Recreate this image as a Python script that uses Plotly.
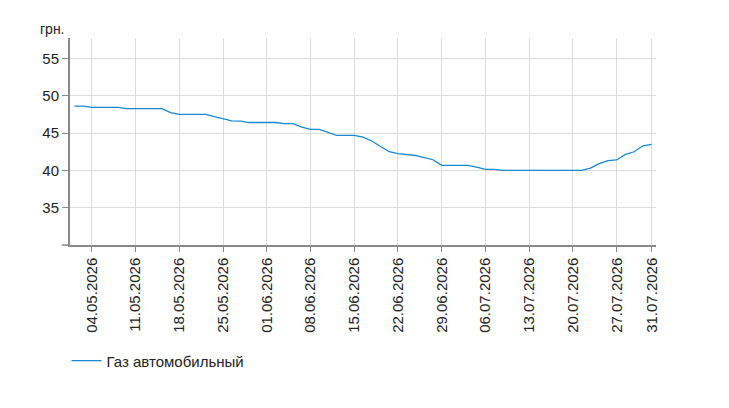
import pandas as pd
import plotly.graph_objects as go

# Business-day categories shown on the x axis
dates = pd.bdate_range("2026-04-30", "2026-07-31")
categories = [d.strftime("%d.%m.%Y") for d in dates]

series_name = "Газ автомобильный"
values = [
    48.63, 48.63, 48.45, 48.45, 48.45, 48.45, 48.27, 48.27, 48.27, 48.27,
    48.27, 47.75, 47.52, 47.52, 47.52, 47.52, 47.20, 46.90, 46.64, 46.60,
    46.42, 46.42, 46.42, 46.42, 46.28, 46.28, 45.80, 45.49, 45.49, 45.10,
    44.70, 44.69, 44.69, 44.47, 43.94, 43.20, 42.50, 42.26, 42.15, 42.00,
    41.70, 41.43, 40.67, 40.67, 40.67, 40.67, 40.45, 40.13, 40.13, 40.00,
    40.00, 40.00, 40.00, 40.00, 40.00, 40.00, 40.00, 40.00, 40.00, 40.30,
    40.90, 41.30, 41.40, 42.15, 42.50, 43.30, 43.50,
]

x_tick_labels = [
    "04.05.2026", "11.05.2026", "18.05.2026", "25.05.2026", "01.06.2026",
    "08.06.2026", "15.06.2026", "22.06.2026", "29.06.2026", "06.07.2026",
    "13.07.2026", "20.07.2026", "27.07.2026", "31.07.2026",
]
y_tick_vals = [35, 40, 45, 50, 55]
y_unit = "грн."

FONT = "Liberation Sans, Arial, sans-serif"

fig = go.Figure()
fig.add_trace(go.Scatter(
    x=categories, y=values, mode="lines", name=series_name,
    line=dict(color="#1789d0", width=1.3),
))

fig.update_layout(
    width=729, height=408,
    margin=dict(l=70, r=73, t=38, b=163),
    paper_bgcolor="white", plot_bgcolor="white",
    font=dict(family=FONT, size=15, color="#222222"),
    showlegend=True,
    legend=dict(
        orientation="h", x=-0.006, xanchor="left", y=-0.56, yanchor="middle",
        font=dict(family=FONT, size=15, color="#222222"),
        bgcolor="rgba(0,0,0,0)",
    ),
    xaxis=dict(
        type="category", range=[-0.5, 66.5],
        tickmode="array", tickvals=x_tick_labels, ticktext=x_tick_labels,
        tickangle=-90, ticks="outside", ticklen=5, tickcolor="#888888",
        showgrid=True, gridcolor="#dddddd", gridwidth=1,
        showline=True, linecolor="#888888", linewidth=1.5,
        tickfont=dict(family=FONT, size=15, color="#222222"),
        fixedrange=True,
    ),
    yaxis=dict(
        range=[30, 57.75], tickmode="array", tickvals=y_tick_vals,
        ticks="outside", ticklen=6, tickcolor="#888888",
        showgrid=True, gridcolor="#dddddd", gridwidth=1, zeroline=False,
        showline=True, linecolor="#888888", linewidth=2,
        tickfont=dict(family=FONT, size=15, color="#222222"),
        fixedrange=True,
    ),
    annotations=[dict(
        text=y_unit, xref="paper", yref="paper", x=-0.005, y=0.995,
        xanchor="right", yanchor="bottom", showarrow=False,
        font=dict(family=FONT, size=14, color="#222222"),
    )],
    shapes=[dict(
        type="line", xref="paper", yref="paper", x0=-0.014, x1=0, y0=0, y1=0,
        line=dict(color="#888888", width=1.5),
    )],
)

fig.write_html("out.html", config={"displayModeBar": False})
